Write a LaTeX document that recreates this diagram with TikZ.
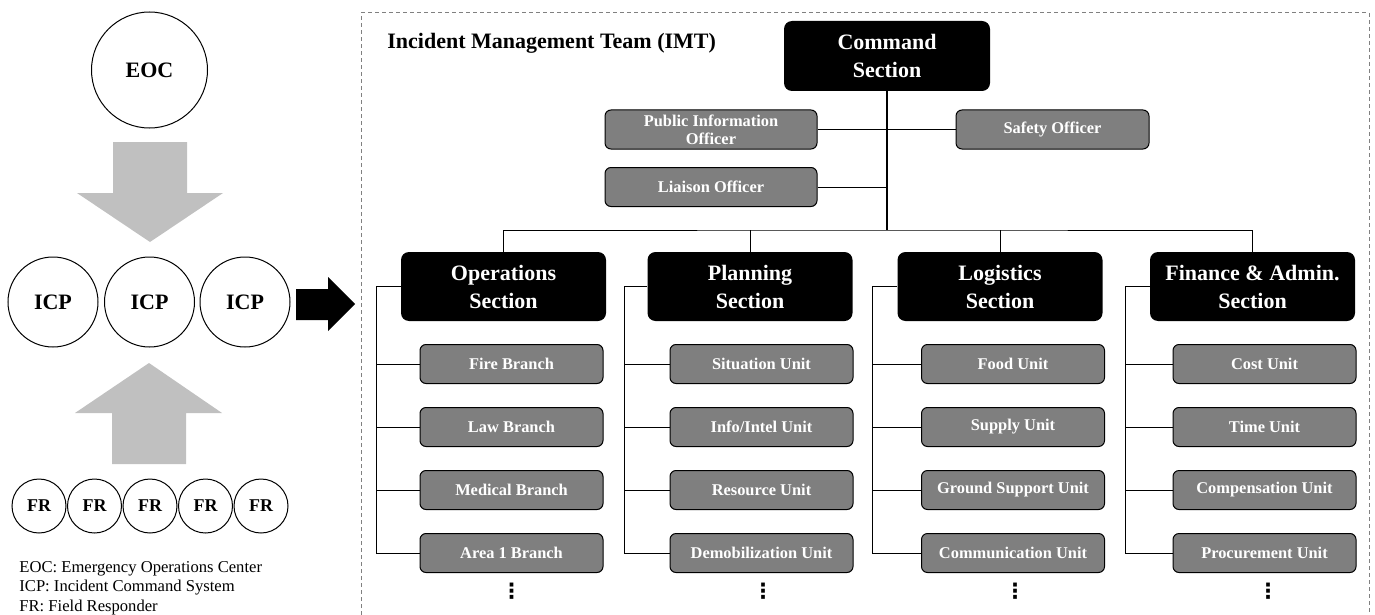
\documentclass[tikz,border=0pt]{standalone}
\usepackage{fontspec}
\setmainfont{Liberation Serif}
\newfontfamily\dotsfont{DejaVu Sans}
\definecolor{unitgray}{RGB}{127,127,127}
\definecolor{arrowgray}{RGB}{192,192,192}
\definecolor{framegray}{RGB}{128,128,128}
\newcommand{\secfont}{\fontsize{11}{14}\selectfont\bfseries}
\newcommand{\unitfont}{\fontsize{8.2}{9}\selectfont\bfseries}
\tikzset{
  section/.style={fill=black, rounded corners=4pt, text=white, font=\secfont, align=center,
    minimum width=102.5pt, minimum height=34.5pt, inner sep=0pt},
  unit/.style={draw=black, line width=0.5pt, fill=unitgray, rounded corners=3pt, text=white,
    font=\unitfont, align=center, minimum width=91.5pt, minimum height=19.5pt, inner sep=0pt},
  officer/.style={unit, minimum width=106pt},
  level/.style={circle, draw=black, line width=0.5pt, inner sep=0pt, font=\secfont},
  link/.style={draw=black, line width=0.5pt},
  etc/.style={font=\dotsfont\fontsize{10.5}{11}\selectfont\bfseries, inner sep=0pt}
}

\begin{document}
\begin{tikzpicture}[x=0.5pt, y=-0.5pt]
\useasboundingbox (0,0) rectangle (1375,615);

% left side: levels
\node[level, minimum size=58pt] (eoc) at (149.5,70) {EOC};
\fill[arrowgray] (113,142) -- (187,142) -- (187,193) -- (223,193) -- (150,242) -- (77,193) -- (113,193) -- cycle;
\node[level, minimum size=45pt] (icp1) at (53,302) {ICP};
\node[level, minimum size=45pt] (icp2) at (149.5,302) {ICP};
\node[level, minimum size=45pt] (icp3) at (245,302) {ICP};
\fill[arrowgray] (112,464) -- (186,464) -- (186,413) -- (222,413) -- (149,363) -- (75,413) -- (112,413) -- cycle;
\node[level, minimum size=27pt, font=\fontsize{9}{10}\selectfont\bfseries] (fr1) at (39,506) {FR};
\node[level, minimum size=27pt, font=\fontsize{9}{10}\selectfont\bfseries] (fr2) at (94.5,506) {FR};
\node[level, minimum size=27pt, font=\fontsize{9}{10}\selectfont\bfseries] (fr3) at (150,506) {FR};
\node[level, minimum size=27pt, font=\fontsize{9}{10}\selectfont\bfseries] (fr4) at (205.5,506) {FR};
\node[level, minimum size=27pt, font=\fontsize{9}{10}\selectfont\bfseries] (fr5) at (261,506) {FR};
\node[anchor=west, align=left, inner sep=0pt, font=\fontsize{8.3}{9.8}\selectfont] (legend) at (19,588)
  {EOC: Emergency Operations Center\\ICP: Incident Command System\\FR: Field Responder};
\fill[black] (296,289) -- (328,289) -- (328,277) -- (355,304) -- (328,331) -- (328,320) -- (296,320) -- cycle;

% IMT frame
\draw[framegray, line width=0.5pt, dash pattern=on 2pt off 1.5pt] (361,615) |- (1369,13) -- (1369,615);
\node[anchor=west, inner sep=0pt, font=\secfont] (imt) at (387,43) {Incident Management Team (IMT)};

% command staff
\node[section, minimum width=103pt, minimum height=35pt] (cmd) at (887,56) {Command\\Section};
\node[officer] (pio) at (711,129.5) {Public Information\\Officer};
\node[officer] (lo) at (711,187) {Liaison Officer};
\node[officer, minimum width=96.5pt] (so) at (1052.5,129.5) {Safety Officer};
\coordinate (bus) at (887,230);
\draw[link, line width=0.75pt] (cmd.south) -- (bus);
\draw[link] (pio.east) -- (so.west);
\draw[link] (lo.east) -- (lo.east -| bus);

% general staff
\node[section] (ops) at (503.5,286.5) {Operations\\Section};
\node[section] (plan) at (750,286.5) {Planning\\Section};
\node[section] (log) at (1000,286.5) {Logistics\\Section};
\node[section] (fin) at (1252.5,286.5) {Finance \& Admin.\\Section};
\draw[link] (ops.north) |- (bus) -| (fin.north);
\draw[link] (plan.north) -- (plan.north |- bus);
\draw[link] (log.north) -- (log.north |- bus);

% operations
\node[unit] (ops1) at (511.5,364) {Fire Branch};
\node[unit] (ops2) at (511.5,427) {Law Branch};
\node[unit] (ops3) at (511.5,490) {Medical Branch};
\node[unit] (ops4) at (511.5,553) {Area 1 Branch};
\node[etc] (opsx) at (511.5,591) {⋮};
\coordinate (opsbus) at (376,286.5);
\draw[link] (ops.west) -- (opsbus) |- (ops4.west);
\draw[link] (ops1.west) -- (ops1.west -| opsbus);
\draw[link] (ops2.west) -- (ops2.west -| opsbus);
\draw[link] (ops3.west) -- (ops3.west -| opsbus);

% planning
\node[unit] (plan1) at (761.5,364) {Situation Unit};
\node[unit] (plan2) at (761.5,427) {Info/Intel Unit};
\node[unit] (plan3) at (761.5,490) {Resource Unit};
\node[unit] (plan4) at (761.5,553) {Demobilization Unit};
\node[etc] (planx) at (763,591) {⋮};
\coordinate (planbus) at (624,286.5);
\draw[link] (plan.west) -- (planbus) |- (plan4.west);
\draw[link] (plan1.west) -- (plan1.west -| planbus);
\draw[link] (plan2.west) -- (plan2.west -| planbus);
\draw[link] (plan3.west) -- (plan3.west -| planbus);

% logistics
\node[unit] (log1) at (1013,364) {Food Unit};
\node[unit] (log2) at (1013,427) {Supply Unit};
\node[unit] (log3) at (1013,490) {Ground Support Unit};
\node[unit] (log4) at (1013,553) {Communication Unit};
\node[etc] (logx) at (1015,591) {⋮};
\coordinate (logbus) at (872,286.5);
\draw[link] (log.west) -- (logbus) |- (log4.west);
\draw[link] (log1.west) -- (log1.west -| logbus);
\draw[link] (log2.west) -- (log2.west -| logbus);
\draw[link] (log3.west) -- (log3.west -| logbus);

% finance and admin
\node[unit] (fin1) at (1264.5,364) {Cost Unit};
\node[unit] (fin2) at (1264.5,427) {Time Unit};
\node[unit] (fin3) at (1264.5,490) {Compensation Unit};
\node[unit] (fin4) at (1264.5,553) {Procurement Unit};
\node[etc] (finx) at (1268,591) {⋮};
\coordinate (finbus) at (1125,286.5);
\draw[link] (fin.west) -- (finbus) |- (fin4.west);
\draw[link] (fin1.west) -- (fin1.west -| finbus);
\draw[link] (fin2.west) -- (fin2.west -| finbus);
\draw[link] (fin3.west) -- (fin3.west -| finbus);
\end{tikzpicture}
\end{document}
